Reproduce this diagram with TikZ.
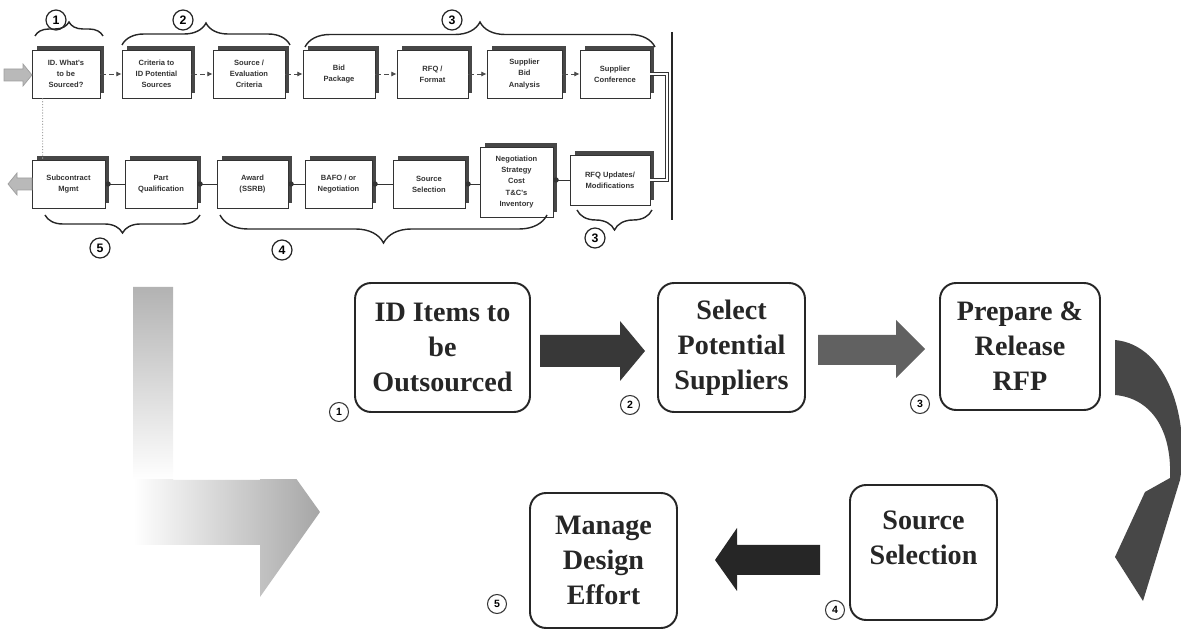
\documentclass[tikz,border=0pt]{standalone}
\usepackage{fontspec}
\setmainfont{Liberation Serif}
\newfontfamily\smallsans{Liberation Sans}
\usetikzlibrary{shadows,decorations.pathreplacing,arrows.meta,calc}
\begin{document}
\begin{tikzpicture}[x=0.02cm,y=-0.02cm,
  sbox/.style={draw=black!80, line width=0.5pt, fill=white, align=center,
    font=\smallsans\bfseries\fontsize{4.3}{6.3}\selectfont, text=black!80,
    general shadow={fill=black!72, shadow xshift=0.09cm, shadow yshift=0.09cm},
    inner sep=1pt, minimum height=0.96cm},
  conn1/.style={black!70, line width=0.5pt, densely dashed, -{Latex[length=3pt,width=3pt]}},
  conn2/.style={black!80, line width=0.5pt, -{Circle[length=3pt]}},
  dline/.style={draw=black!80, double=white, double distance=1.1pt, line width=0.4pt},
  brc/.style={decorate, decoration={brace, amplitude=#1}, line width=0.8pt, black!85},
  cnum/.style={circle, draw=black!85, line width=0.7pt, inner sep=0pt, minimum size=0.4cm,
    font=\smallsans\bfseries\fontsize{7}{7}\selectfont},
  mnum/.style={circle, draw=black!80, line width=0.6pt, inner sep=0pt, minimum size=0.38cm,
    font=\smallsans\bfseries\fontsize{6}{6}\selectfont},
  bigbox/.style={draw=black!85, line width=1.1pt, rounded corners=0.32cm, align=center,
    font=\bfseries\fontsize{16}{20}\selectfont, text=black!85},
  bigtext/.style={align=center, font=\bfseries\fontsize{16}{20}\selectfont, text=black!85, inner sep=0pt},
  sarrow/.style={fill=gray!55, draw=gray!75, line width=0.4pt}
]
\useasboundingbox (0,0) rectangle (1181,631);

% ---------- small process diagram, row 1 ----------
\node[sbox, minimum width=1.36cm] (B1) at (66,74)   {ID. What's\\to be\\Sourced?};
\node[sbox, minimum width=1.38cm] (B2) at (156.5,74) {Criteria to\\ID Potential\\Sources};
\node[sbox, minimum width=1.44cm] (B3) at (249,74)   {Source /\\Evaluation\\Criteria};
\node[sbox, minimum width=1.44cm] (B4) at (339,74)   {Bid\\Package};
\node[sbox, minimum width=1.42cm] (B5) at (432.5,74) {RFQ /\\Format};
\node[sbox, minimum width=1.5cm]  (B6) at (524.5,74) {Supplier\\Bid\\Analysis};
\node[sbox, minimum width=1.4cm]  (B7) at (615,74)   {Supplier\\Conference};

\draw[conn1] (B1) -- (B2);
\draw[conn1] (B2) -- (B3);
\draw[conn1] (B3) -- (B4);
\draw[conn1] (B4) -- (B5);
\draw[conn1] (B5) -- (B6);
\draw[conn1] (B6) -- (B7);

% ---------- row 2 ----------
\node[sbox, minimum width=1.46cm] (C1) at (68.5,184) {Subcontract\\Mgmt};
\node[sbox, minimum width=1.44cm] (C2) at (161,184)  {Part\\Qualification};
\node[sbox, minimum width=1.42cm] (C3) at (252.5,184) {Award\\(SSRB)};
\node[sbox, minimum width=1.34cm] (C4) at (338.5,184) {BAFO / or\\Negotiation};
\node[sbox, minimum width=1.44cm] (C5) at (429,184)  {Source\\Selection};
\node[sbox, minimum width=1.46cm, minimum height=1.4cm] (C6) at (516.5,182) {Negotiation\\Strategy\\Cost\\T\&C's\\Inventory};
\node[sbox, minimum width=1.6cm, minimum height=1.0cm] (C7) at (610,180) {RFQ Updates/\\Modifications};

\draw[conn2] (C2.west) -- (C1.east);
\draw[conn2] (C3.west) -- (C2.east);
\draw[conn2] (C4.west) -- (C3.east);
\draw[conn2] (C5.west) -- (C4.east);
\draw[conn2] (C6.west |- C5.east) -- (C5.east);
\draw[conn2] (C7.west) -- (C7.west -| C6.east);

% return loop and bar
\coordinate (rx) at (667,0);
\draw[dline] (B7.east) -| (rx |- C7.east) -- (C7.east);
\coordinate (vt) at (672,32);
\coordinate (vb) at (672,220);
\draw[line width=1.3pt, black!85] (vt) -- (vb);

% dotted link between rows
\draw[gray!70, densely dotted, line width=0.6pt] ($(B1.south west)+(11,0)$) -- ($(C1.north west)+(11,0)$);

% in / out striped arrows
\draw[sarrow] (4,69) -- (23,69) -- (23,64) -- (32,75) -- (23,86) -- (23,81) -- (4,81) -- cycle;
\draw[sarrow] (32,178) -- (17,178) -- (17,173) -- (8,184) -- (17,195) -- (17,190) -- (32,190) -- cycle;

% braces and numbers
\draw[brc=0.28cm] (35,36) -- (103,36);
\draw[brc=0.44cm] (122,45) -- (290,45);
\draw[brc=0.5cm]  (305,47) -- (655,47);
\draw[brc=0.36cm] (200,215) -- (45,215);
\draw[brc=0.56cm] (547,215) -- (220,215);
\draw[brc=0.4cm]  (652,210) -- (577,210);

\node[cnum] (n1) at (56,20)   {1};
\node[cnum] (n2) at (183,20)  {2};
\node[cnum] (n3) at (452,20)  {3};
\node[cnum] (n5) at (100,248) {5};
\node[cnum] (n4) at (282,250) {4};
\node[cnum] (n3b) at (595,238) {3};

% ---------- big L-shaped gradient arrow ----------
\begin{scope}
  \clip (133,287) -- (173,287) -- (173,480) -- (260,480) -- (260,428) -- (320,512)
        -- (260,597) -- (260,545) -- (133,545) -- cycle;
  \shade[top color=gray!60, bottom color=white] (133,287) rectangle (173,480);
  \fill[white] (133,480) rectangle (173,545);
  \shade[left color=white, right color=gray!70] (133,480) rectangle (320,597);
\end{scope}

% ---------- main boxes ----------
\node[bigbox, minimum width=3.5cm, minimum height=2.58cm] (A) at (442.5,347.5) {ID Items to\\be\\Outsourced};
\node[bigbox, minimum width=2.94cm, minimum height=2.58cm] (Bx) at (731.5,347.5) {Select\\Potential\\Suppliers};
\node[bigbox, minimum width=3.2cm, minimum height=2.54cm] (Cx) at (1020,346.5) {Prepare \&\\Release\\RFP};
\node[bigbox, minimum width=2.94cm, minimum height=2.7cm] (D) at (923.5,552.5) {};
\node[bigtext] (Dt) at (923.5,538) {Source\\Selection};
\node[bigbox, minimum width=2.94cm, minimum height=2.7cm] (E) at (603.5,560.5) {Manage\\Design\\Effort};

\node[mnum] (m1) at (339,412) {1};
\node[mnum] (m2) at (630,405) {2};
\node[mnum] (m3) at (920,404) {3};
\node[mnum] (m4) at (835,610) {4};
\node[mnum] (m5) at (497,604) {5};

% block arrows
\fill[black!78] (540,335) -- (620,335) -- (620,321) -- (645,351) -- (620,381) -- (620,367) -- (540,367) -- cycle;
\fill[black!62] (818,335) -- (896,335) -- (896,320) -- (925,349) -- (896,378) -- (896,365) -- (818,365) -- cycle;
\fill[black!85] (820,545) -- (737,545) -- (737,528) -- (715,560) -- (737,591) -- (737,575) -- (820,575) -- cycle;

% curved arrow
\fill[black!72] (1115,340) .. controls (1168,345) and (1190,420) .. (1180,480)
   -- (1143,601) -- (1115,557) -- (1145,492) -- (1170,478)
   .. controls (1172,428) and (1150,398) .. (1115,395) -- cycle;

\end{tikzpicture}
\end{document}
